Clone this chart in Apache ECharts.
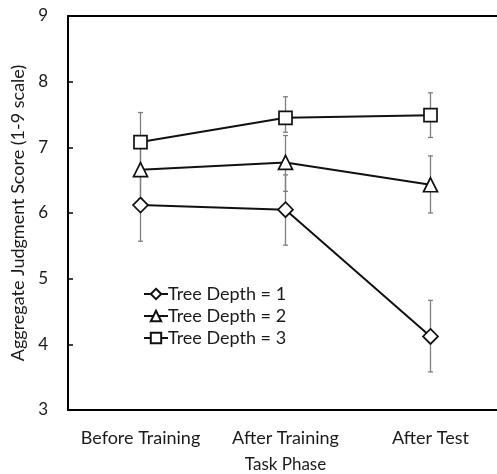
<!DOCTYPE html>
<html><head><meta charset="utf-8">
<script src="https://cdn.jsdelivr.net/npm/echarts@6/dist/echarts.min.js"></script>
<style>html,body{margin:0;padding:0;background:#fff}#c{width:497px;height:474px}</style>
</head><body><div id="c"></div>
<script>
const categories = ['Before Training', 'After Training', 'After Test'];
const seriesNames = ['Tree Depth = 1', 'Tree Depth = 2', 'Tree Depth = 3'];
const depth1 = [6.12, 6.05, 4.12];
const depth1Low = [5.57, 5.51, 3.58];
const depth1High = [6.66, 6.58, 4.67];
const depth2 = [6.66, 6.77, 6.43];
const depth2Low = [6.22, 6.33, 6.00];
const depth2High = [7.10, 7.18, 6.87];
const depth3 = [7.08, 7.45, 7.49];
const depth3Low = [6.63, 7.23, 7.15];
const depth3High = [7.53, 7.77, 7.83];
const yTicks = [3, 4, 5, 6, 7, 8, 9];

const chart = echarts.init(document.getElementById('c'));
const font = 'Lato, "Open Sans", sans-serif';
const txt = '#1a1a1a';

function errSeries(low, high) {
  return {
    type: 'custom',
    silent: true,
    z: 1,
    data: low.map((l, i) => [i, l, high[i]]),
    renderItem: function (params, api) {
      const lo = api.coord([api.value(0), api.value(1)]);
      const hi = api.coord([api.value(0), api.value(2)]);
      const w = 2.5;
      const st = {stroke: '#7f7f7f', lineWidth: 1.3};
      return {type: 'group', children: [
        {type: 'line', shape: {x1: lo[0], y1: lo[1], x2: hi[0], y2: hi[1]}, style: st},
        {type: 'line', shape: {x1: lo[0]-w, y1: lo[1], x2: lo[0]+w, y2: lo[1]}, style: st},
        {type: 'line', shape: {x1: hi[0]-w, y1: hi[1], x2: hi[0]+w, y2: hi[1]}, style: st}
      ]};
    }
  };
}
function lineSeries(name, data, symbol, size) {
  return {
    name: name, type: 'line', data: data, symbol: symbol, symbolSize: size, z: 3,
    lineStyle: {color: '#111', width: 2},
    itemStyle: {color: '#fff', borderColor: '#111', borderWidth: 1.7},
    emphasis: {disabled: true}
  };
}

chart.setOption({
  animation: false,
  grid: {left: 68, top: 16, width: 435, height: 394, containLabel: false, outerBoundsMode: 'none'},
  legend: {
    orient: 'vertical', left: 138, top: 280, itemGap: 4, itemWidth: 24, itemHeight: 13,
    textStyle: {fontFamily: font, fontSize: 18, color: txt, padding: [0, 0, 0, -5]},
    data: seriesNames
  },
  xAxis: [{
    type: 'category', data: categories, position: 'bottom',
    name: 'Task Phase', nameLocation: 'middle', nameGap: 46,
    nameTextStyle: {fontFamily: font, fontSize: 17, color: txt},
    axisLine: {lineStyle: {color: '#000', width: 2}},
    axisTick: {inside: true, length: 6, lineStyle: {color: '#000', width: 1.5}},
    axisLabel: {fontFamily: font, fontSize: 18, color: txt, margin: 19, interval: 0}
  }, {
    type: 'category', data: categories, position: 'top',
    axisLine: {lineStyle: {color: '#000', width: 2}},
    axisTick: {inside: true, length: 6, lineStyle: {color: '#000', width: 1.5}},
    axisLabel: {show: false}
  }],
  yAxis: [{
    type: 'value', min: 3, max: 9, interval: 1,
    name: 'Aggregate Judgment Score (1-9 scale)', nameLocation: 'middle', nameGap: 37,
    nameTextStyle: {fontFamily: font, fontSize: 18, color: txt},
    axisLine: {show: true, lineStyle: {color: '#000', width: 2}},
    axisTick: {show: true, inside: true, length: 5, lineStyle: {color: '#000', width: 1.5}},
    axisLabel: {fontFamily: font, fontSize: 17, color: txt, margin: 20,
      formatter: v => yTicks.includes(v) ? String(v) : ''},
    splitLine: {show: false}
  }, {
    type: 'value', min: 3, max: 9, interval: 1, position: 'right',
    axisLine: {show: false},
    axisTick: {show: true, inside: true, length: 6, lineStyle: {color: '#aaa', width: 1.5}},
    axisLabel: {show: false}, splitLine: {show: false}
  }],
  series: [
    errSeries(depth1Low, depth1High),
    errSeries(depth2Low, depth2High),
    errSeries(depth3Low, depth3High),
    lineSeries(seriesNames[0], depth1, 'diamond', [15, 15]),
    lineSeries(seriesNames[1], depth2, 'triangle', [14, 14]),
    lineSeries(seriesNames[2], depth3, 'rect', [13, 13])
  ]
});
</script></body></html>
